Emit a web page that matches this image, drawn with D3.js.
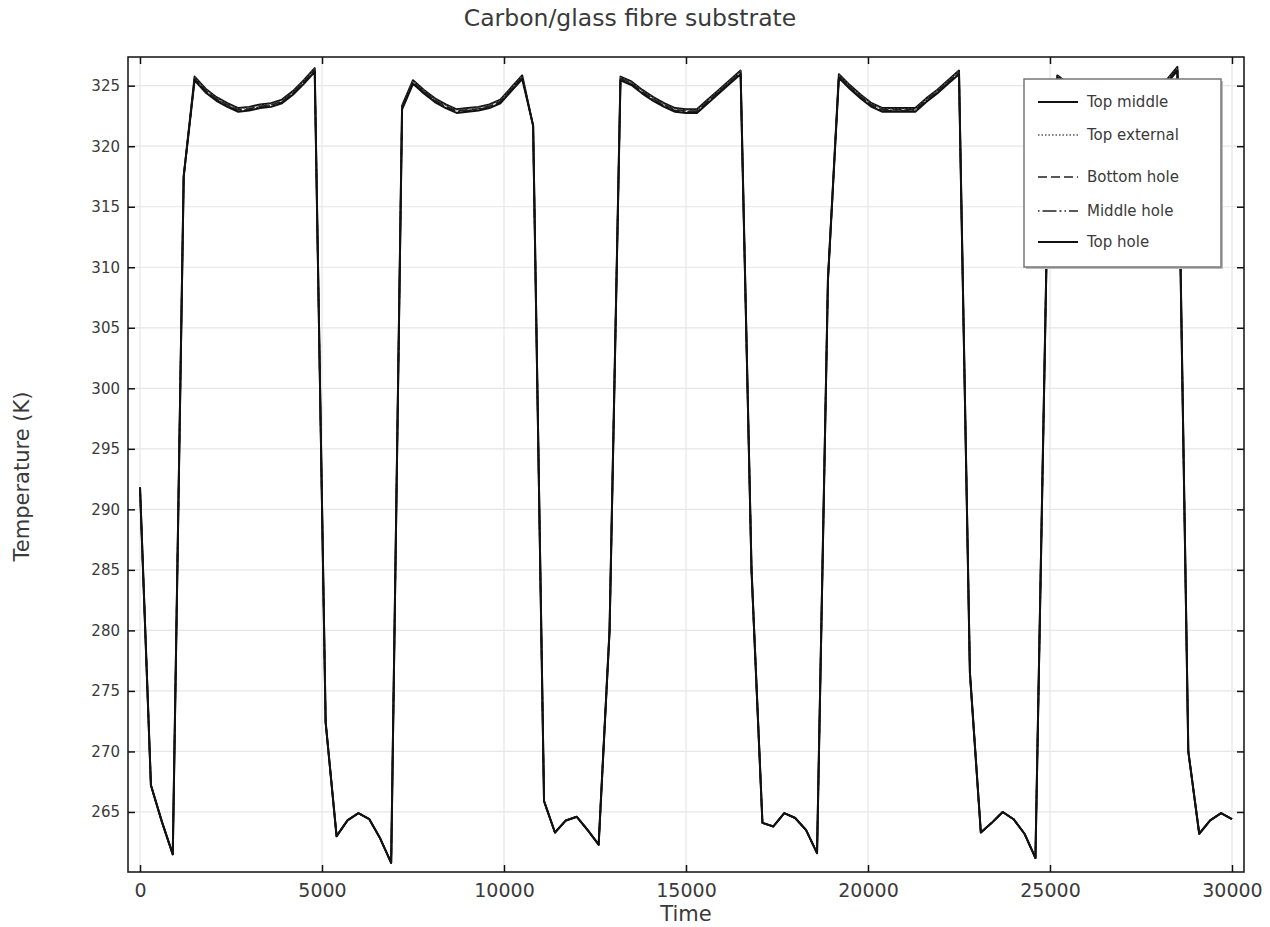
<!DOCTYPE html>
<html lang="en">
<head>
    <meta charset="UTF-8">
    <title>Carbon/glass fibre substrate</title>
    <script src="https://d3js.org/d3.v7.min.js"></script>
    <style>
        body { margin: 0; background: #fff; }
        text { font-family: "DejaVu Sans", sans-serif; fill: #3a3a3a; }
    </style>
</head>
<body>
<div id="chart"></div>
<script>

    // sample times step (s)
    var timeStep = 300;

    var seriesNames = ["Top middle", "Top external", "Bottom hole", "Middle hole", "Top hole"];

    var topMiddle = [
        291.8, 267.2, 264.2, 261.5, 317.5,
        325.75, 324.75, 324.05, 323.55, 323.15, 323.25, 323.45, 323.55, 323.85, 324.55, 325.45, 326.45,
        272.4, 263.0, 264.3, 264.9, 264.4, 262.8, 260.8,
        323.35, 325.45, 324.65, 323.95, 323.45, 323.05, 323.15, 323.25, 323.45, 323.85, 324.85, 325.85,
        321.7, 265.9, 263.3, 264.3, 264.6, 263.5, 262.3, 280.0,
        325.75, 325.35, 324.65, 324.05, 323.55, 323.15, 323.05, 323.05, 323.85, 324.65, 325.45, 326.25,
        285.0, 264.1, 263.8, 264.9, 264.5, 263.5, 261.6, 309.0,
        325.95, 325.05, 324.25, 323.55, 323.15, 323.15, 323.15, 323.15, 323.95, 324.65, 325.45, 326.25,
        276.5, 263.3, 264.1, 265.0, 264.4, 263.2, 261.2, 310.0,
        325.85, 325.15, 324.35, 323.75, 323.35, 323.15, 323.25, 323.35, 323.65, 324.45, 325.45, 326.55,
        270.0, 263.2, 264.3, 264.9, 264.4
    ];

    var topExternal = [
        291.8, 267.2, 264.2, 261.5, 317.5,
        325.68, 324.68, 323.98, 323.48, 323.08, 323.18, 323.38, 323.48, 323.78, 324.48, 325.38, 326.38,
        272.4, 263.0, 264.3, 264.9, 264.4, 262.8, 260.8,
        323.28, 325.38, 324.58, 323.88, 323.38, 322.98, 323.08, 323.18, 323.38, 323.78, 324.78, 325.78,
        321.7, 265.9, 263.3, 264.3, 264.6, 263.5, 262.3, 280.0,
        325.68, 325.28, 324.58, 323.98, 323.48, 323.08, 322.98, 322.98, 323.78, 324.58, 325.38, 326.18,
        285.0, 264.1, 263.8, 264.9, 264.5, 263.5, 261.6, 309.0,
        325.88, 324.98, 324.18, 323.48, 323.08, 323.08, 323.08, 323.08, 323.88, 324.58, 325.38, 326.18,
        276.5, 263.3, 264.1, 265.0, 264.4, 263.2, 261.2, 310.0,
        325.78, 325.08, 324.28, 323.68, 323.28, 323.08, 323.18, 323.28, 323.58, 324.38, 325.38, 326.48,
        270.0, 263.2, 264.3, 264.9, 264.4
    ];

    var bottomHole = [
        291.8, 267.2, 264.2, 261.5, 317.5,
        325.6, 324.6, 323.9, 323.4, 323.0, 323.1, 323.3, 323.4, 323.7, 324.4, 325.3, 326.3,
        272.4, 263.0, 264.3, 264.9, 264.4, 262.8, 260.8,
        323.2, 325.3, 324.5, 323.8, 323.3, 322.9, 323.0, 323.1, 323.3, 323.7, 324.7, 325.7,
        321.7, 265.9, 263.3, 264.3, 264.6, 263.5, 262.3, 280.0,
        325.6, 325.2, 324.5, 323.9, 323.4, 323.0, 322.9, 322.9, 323.7, 324.5, 325.3, 326.1,
        285.0, 264.1, 263.8, 264.9, 264.5, 263.5, 261.6, 309.0,
        325.8, 324.9, 324.1, 323.4, 323.0, 323.0, 323.0, 323.0, 323.8, 324.5, 325.3, 326.1,
        276.5, 263.3, 264.1, 265.0, 264.4, 263.2, 261.2, 310.0,
        325.7, 325.0, 324.2, 323.6, 323.2, 323.0, 323.1, 323.2, 323.5, 324.3, 325.3, 326.4,
        270.0, 263.2, 264.3, 264.9, 264.4
    ];

    var middleHole = [
        291.8, 267.2, 264.2, 261.5, 317.5,
        325.54, 324.54, 323.84, 323.34, 322.94, 323.04, 323.24, 323.34, 323.64, 324.34, 325.24, 326.24,
        272.4, 263.0, 264.3, 264.9, 264.4, 262.8, 260.8,
        323.14, 325.24, 324.44, 323.74, 323.24, 322.84, 322.94, 323.04, 323.24, 323.64, 324.64, 325.64,
        321.7, 265.9, 263.3, 264.3, 264.6, 263.5, 262.3, 280.0,
        325.54, 325.14, 324.44, 323.84, 323.34, 322.94, 322.84, 322.84, 323.64, 324.44, 325.24, 326.04,
        285.0, 264.1, 263.8, 264.9, 264.5, 263.5, 261.6, 309.0,
        325.74, 324.84, 324.04, 323.34, 322.94, 322.94, 322.94, 322.94, 323.74, 324.44, 325.24, 326.04,
        276.5, 263.3, 264.1, 265.0, 264.4, 263.2, 261.2, 310.0,
        325.64, 324.94, 324.14, 323.54, 323.14, 322.94, 323.04, 323.14, 323.44, 324.24, 325.24, 326.34,
        270.0, 263.2, 264.3, 264.9, 264.4
    ];

    var topHole = [
        291.8, 267.2, 264.2, 261.5, 317.5,
        325.45, 324.45, 323.75, 323.25, 322.85, 322.95, 323.15, 323.25, 323.55, 324.25, 325.15, 326.15,
        272.4, 263.0, 264.3, 264.9, 264.4, 262.8, 260.8,
        323.05, 325.15, 324.35, 323.65, 323.15, 322.75, 322.85, 322.95, 323.15, 323.55, 324.55, 325.55,
        321.7, 265.9, 263.3, 264.3, 264.6, 263.5, 262.3, 280.0,
        325.45, 325.05, 324.35, 323.75, 323.25, 322.85, 322.75, 322.75, 323.55, 324.35, 325.15, 325.95,
        285.0, 264.1, 263.8, 264.9, 264.5, 263.5, 261.6, 309.0,
        325.65, 324.75, 323.95, 323.25, 322.85, 322.85, 322.85, 322.85, 323.65, 324.35, 325.15, 325.95,
        276.5, 263.3, 264.1, 265.0, 264.4, 263.2, 261.2, 310.0,
        325.55, 324.85, 324.05, 323.45, 323.05, 322.85, 322.95, 323.05, 323.35, 324.15, 325.15, 326.25,
        270.0, 263.2, 264.3, 264.9, 264.4
    ];

    var xTicks = [0, 5000, 10000, 15000, 20000, 25000, 30000];
    var yTicks = [265, 270, 275, 280, 285, 290, 295, 300, 305, 310, 315, 320, 325];

    var allSeries = [topMiddle, topExternal, bottomHole, middleHole, topHole];
    var styles = [
        {dash: null, color: "#111", width: 2},
        {dash: "1.5,2", color: "#555", width: 1.5},
        {dash: "9,4", color: "#222", width: 1.6},
        {dash: "9,3,2,3", color: "#222", width: 1.6},
        {dash: null, color: "#111", width: 2}
    ];

    var w = 1270;
    var h = 927;
    var margin = {left: 128, right: 26, top: 57, bottom: 55};

    var svg = d3.select("#chart")
        .append("svg")
        .attr("width", w)
        .attr("height", h);

    var x = d3.scaleLinear()
        .domain([-330, 30330])
        .range([margin.left, w - margin.right]);

    var y = d3.scaleLinear()
        .domain([260.04, 327.37])
        .range([h - margin.bottom, margin.top]);

    var x0 = margin.left, x1 = w - margin.right, y0 = h - margin.bottom, y1 = margin.top;

    // grid
    svg.append("g")
        .selectAll("line.gx")
        .data(xTicks)
        .enter().append("line")
        .attr("x1", d => x(d)).attr("x2", d => x(d))
        .attr("y1", y1).attr("y2", y0)
        .attr("stroke", "#e6e6e6").attr("stroke-width", 1.2);

    svg.append("g")
        .selectAll("line.gy")
        .data(yTicks)
        .enter().append("line")
        .attr("x1", x0).attr("x2", x1)
        .attr("y1", d => y(d)).attr("y2", d => y(d))
        .attr("stroke", "#e6e6e6").attr("stroke-width", 1.2);

    // series
    var line = d3.line()
        .x((d, i) => x(i * timeStep))
        .y(d => y(d));

    var plot = svg.append("g");
    allSeries.forEach(function (s, k) {
        plot.append("path")
            .datum(s)
            .attr("d", line)
            .attr("fill", "none")
            .attr("stroke", styles[k].color)
            .attr("stroke-width", styles[k].width)
            .attr("stroke-dasharray", styles[k].dash)
            .attr("stroke-linejoin", "round");
    });

    // axes (ticks inside, all four sides)
    var tl = 7;
    var xAxisG = svg.append("g")
        .attr("transform", "translate(0," + y0 + ")")
        .call(d3.axisBottom(x).tickValues(xTicks).tickSize(-tl).tickPadding(12).tickFormat(d3.format("d")))
        .call(g => g.select(".domain").remove());
    svg.append("g")
        .attr("transform", "translate(0," + y1 + ")")
        .call(d3.axisTop(x).tickValues(xTicks).tickSize(-tl).tickFormat(""))
        .call(g => g.select(".domain").remove());
    var yAxisG = svg.append("g")
        .attr("transform", "translate(" + x0 + ",0)")
        .call(d3.axisLeft(y).tickValues(yTicks).tickSize(-tl).tickPadding(8).tickFormat(d3.format("d")))
        .call(g => g.select(".domain").remove());
    svg.append("g")
        .attr("transform", "translate(" + x1 + ",0)")
        .call(d3.axisRight(y).tickValues(yTicks).tickSize(-tl).tickFormat(""))
        .call(g => g.select(".domain").remove());

    svg.selectAll(".tick line").attr("stroke", "#111").attr("stroke-width", 1.5);
    xAxisG.selectAll(".tick text")
        .style("font-family", "DejaVu Sans, sans-serif")
        .style("font-size", "19px")
        .attr("fill", "#3a3a3a");
    yAxisG.selectAll(".tick text")
        .style("font-family", "DejaVu Sans, sans-serif")
        .style("font-size", "15px")
        .attr("fill", "#3a3a3a");

    svg.append("rect")
        .attr("x", x0).attr("y", y1)
        .attr("width", x1 - x0).attr("height", y0 - y1)
        .attr("fill", "none").attr("stroke", "#111").attr("stroke-width", 1.5);

    // titles
    svg.append("text")
        .attr("x", 630).attr("y", 26)
        .attr("text-anchor", "middle")
        .style("font-size", "23.5px")
        .text("Carbon/glass fibre substrate");

    svg.append("text")
        .attr("x", (x0 + x1) / 2).attr("y", 921)
        .attr("text-anchor", "middle")
        .style("font-size", "21px")
        .text("Time");

    svg.append("text")
        .attr("transform", "translate(29," + ((y0 + y1) / 2 + 12) + ") rotate(-90)")
        .attr("text-anchor", "middle")
        .style("font-size", "21px")
        .text("Temperature (K)");

    // legend
    var lg = svg.append("g").attr("transform", "translate(1024,79)");
    lg.append("rect")
        .attr("x", 2).attr("y", 2).attr("width", 197).attr("height", 188)
        .attr("fill", "#bbb");
    lg.append("rect")
        .attr("width", 197).attr("height", 188)
        .attr("fill", "#fff").attr("stroke", "#777").attr("stroke-width", 1.5);

    var rowY = [23, 56, 98, 132, 163];
    seriesNames.forEach(function (name, k) {
        lg.append("line")
            .attr("x1", 14).attr("x2", 54)
            .attr("y1", rowY[k]).attr("y2", rowY[k])
            .attr("stroke", styles[k].color)
            .attr("stroke-width", styles[k].width)
            .attr("stroke-dasharray", k === 3 ? "1.5,3,14,3,2,3" : styles[k].dash);
        lg.append("text")
            .attr("x", 63).attr("y", rowY[k] + 5)
            .style("font-size", "15px")
            .attr("fill", "#222")
            .text(name);
    });

</script>
</body>
</html>
